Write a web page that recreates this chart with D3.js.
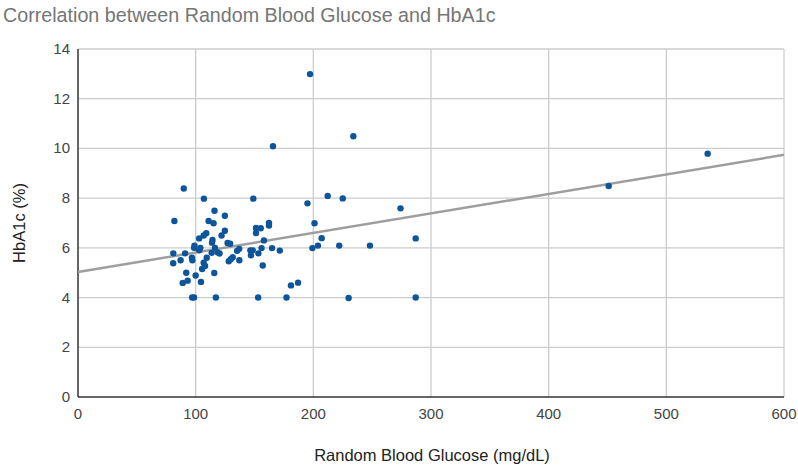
<!DOCTYPE html>
<html>
<head>
<meta charset="utf-8">
<script src="https://cdn.jsdelivr.net/npm/d3@7"></script>
<style>
  body { margin: 0; background: #fff; }
  text { font-family: "Liberation Sans", Arial, sans-serif; }
</style>
</head>
<body>
<div class="chart"></div>
<script>
// random blood glucose (mg/dL)
var glucose = [
  81.9, 89.9, 81, 91, 80.9, 87.2, 92, 93.2, 89, 96.8, 97.2, 97, 98.6, 99, 98.7, 100,
  103, 107, 116, 111, 115.2, 124.8, 109, 106.8, 114.3, 113.9, 122, 124.8, 104, 103,
  113.6, 116.4, 118.7, 120.3, 109.4, 106.8, 108, 105.5, 115.8, 104.5, 117.2,
  127.1, 129.3, 131.5, 129.8, 128.1, 137.1, 137, 135.2, 149, 162.3, 162.3,
  151.3, 155.3, 151.3, 158, 146.5, 148.5, 147, 153.3, 156, 164.9, 171.5, 157, 153.1, 165.7,
  177.2, 181, 187, 195, 197.2, 201, 199.2, 203.9, 207.1, 212.2, 225, 222, 230, 234,
  248.1, 274.1, 287, 287, 451, 535.1
];
// HbA1c (%)
var hba1c = [
  7.08, 8.39, 5.78, 5.78, 5.38, 5.5, 5.0, 4.68, 4.59, 5.6, 5.5, 4.0, 4.0, 6.09, 6.0, 4.89,
  6.38, 7.98, 7.49, 7.08, 6.99, 7.29, 6.59, 6.5, 6.32, 6.21, 6.5, 6.69, 6.0, 5.9,
  5.8, 6.0, 5.82, 5.77, 5.6, 5.4, 5.27, 5.15, 4.99, 4.63, 4.0,
  6.2, 6.17, 5.62, 5.54, 5.46, 5.5, 5.96, 5.88, 7.98, 7.0, 6.9,
  6.8, 6.79, 6.6, 6.3, 5.9, 5.9, 5.7, 5.78, 5.99, 5.99, 5.89, 5.29, 4.0, 10.09,
  4.0, 4.49, 4.6, 7.79, 12.99, 6.99, 5.99, 6.09, 6.39, 8.09, 7.99, 6.09, 3.98, 10.49,
  6.09, 7.59, 6.38, 4.0, 8.49, 9.79
];
var xTicks = [0, 100, 200, 300, 400, 500, 600];
var yTicks = [0, 2, 4, 6, 8, 10, 12, 14];

var width = 798, height = 465;
var margin = { left: 78, right: 14, top: 49, bottom: 68 };

var svg = d3.select(".chart").append("svg")
  .attr("width", width)
  .attr("height", height);

var x = d3.scaleLinear().domain([0, 600]).range([margin.left, width - margin.right]);
var y = d3.scaleLinear().domain([0, 14]).range([height - margin.bottom, margin.top]);

// grid
svg.append("g").selectAll("line")
  .data(yTicks.slice(1)).enter().append("line")
  .attr("x1", x(0)).attr("x2", x(600))
  .attr("y1", d => y(d)).attr("y2", d => y(d))
  .attr("stroke", "#cccccc").attr("stroke-width", 1.3);
svg.append("g").selectAll("line")
  .data(xTicks.slice(1)).enter().append("line")
  .attr("y1", y(0)).attr("y2", y(14))
  .attr("x1", d => x(d)).attr("x2", d => x(d))
  .attr("stroke", "#cccccc").attr("stroke-width", 1.3);

// axes lines
svg.append("line")
  .attr("x1", x(0)).attr("x2", x(600)).attr("y1", y(0)).attr("y2", y(0))
  .attr("stroke", "#333").attr("stroke-width", 1.5);
svg.append("line")
  .attr("x1", x(0)).attr("x2", x(0)).attr("y1", y(0)).attr("y2", y(14))
  .attr("stroke", "#333").attr("stroke-width", 1.5);

// tick labels
svg.append("g").selectAll("text")
  .data(xTicks).enter().append("text")
  .attr("x", d => x(d)).attr("y", y(0) + 22)
  .attr("text-anchor", "middle")
  .attr("font-size", 15).attr("fill", "#444")
  .text(d => d);
svg.append("g").selectAll("text")
  .data(yTicks).enter().append("text")
  .attr("x", x(0) - 8).attr("y", d => y(d) + 5)
  .attr("text-anchor", "end")
  .attr("font-size", 15).attr("fill", "#444")
  .text(d => d);

// trendline (least squares)
var mx = d3.mean(glucose), my = d3.mean(hba1c);
var sxy = d3.sum(glucose, (g, i) => (g - mx) * (hba1c[i] - my));
var sxx = d3.sum(glucose, g => (g - mx) * (g - mx));
var slope = sxy / sxx, intercept = my - slope * mx;

svg.append("line")
  .attr("x1", x(0)).attr("y1", y(intercept))
  .attr("x2", x(600)).attr("y2", y(intercept + slope * 600))
  .attr("stroke", "#9e9e9e").attr("stroke-width", 2.5);

// points
svg.append("g").selectAll("circle")
  .data(glucose).enter().append("circle")
  .attr("cx", d => x(d))
  .attr("cy", (d, i) => y(hba1c[i]))
  .attr("r", 3.2)
  .attr("fill", "#0d559b");

// titles
svg.append("text")
  .attr("x", 3).attr("y", 22)
  .attr("font-size", 19.7).attr("fill", "#757575")
  .text("Correlation between Random Blood Glucose and HbA1c");
svg.append("text")
  .attr("x", 432).attr("y", 461)
  .attr("text-anchor", "middle")
  .attr("font-size", 16.5).attr("fill", "#222")
  .text("Random Blood Glucose (mg/dL)");
svg.append("text")
  .attr("transform", "translate(25," + y(7) + ") rotate(-90)")
  .attr("text-anchor", "middle")
  .attr("font-size", 16.5).attr("fill", "#222")
  .text("HbA1c (%)");
</script>
</body>
</html>
